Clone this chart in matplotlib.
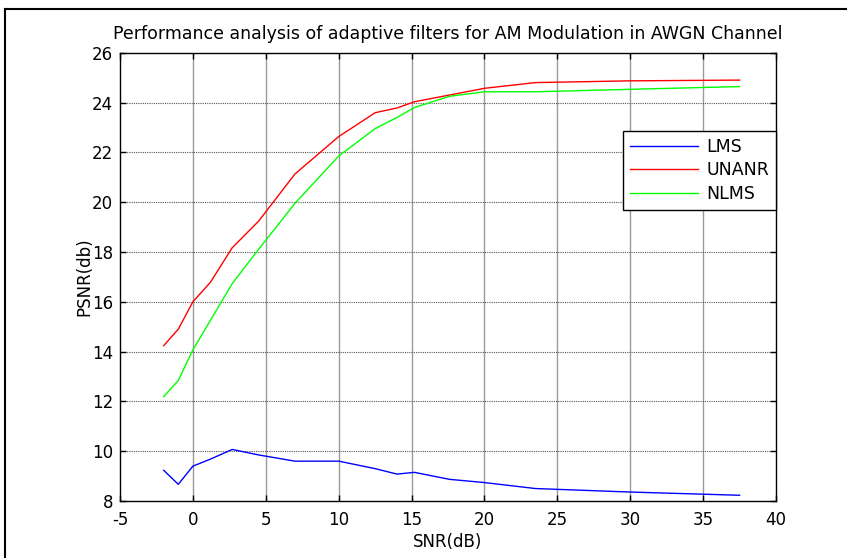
import matplotlib
matplotlib.use('Agg')
import matplotlib.pyplot as plt
from matplotlib.lines import Line2D

plt.rcParams['font.family'] = ['DejaVu Sans']
plt.rcParams['axes.unicode_minus'] = False

# SNR values (dB) where the filters were evaluated
snr = [-2, -1, 0, 1.2, 2.7, 4.5, 7, 10, 12.5, 14, 15.2, 17.6, 20, 23.5, 30, 37.5]

# PSNR (db) for each filter
lms = [9.23, 8.67, 9.4, 9.68, 10.07, 9.85, 9.6, 9.6, 9.3, 9.08, 9.15, 8.87, 8.74, 8.5, 8.36, 8.23]
unanr = [14.24, 14.9, 16.0, 16.78, 18.17, 19.23, 21.13, 22.63, 23.59, 23.78, 24.03, 24.3, 24.57, 24.8, 24.87, 24.9]
nlms = [12.19, 12.84, 14.07, 15.25, 16.73, 18.1, 19.95, 21.85, 22.95, 23.4, 23.8, 24.25, 24.43, 24.43, 24.53, 24.64]

xticks = list(range(-5, 41, 5))
yticks = list(range(8, 27, 2))

fig = plt.figure(figsize=(8.47, 5.58), dpi=100)
W, H = 847, 558
ax = fig.add_axes([120 / W, 1 - 501 / H, 656 / W, 448.3 / H])

ax.plot(snr, lms, color='#0000ff', lw=1, label='LMS')
ax.plot(snr, unanr, color='#ff0000', lw=1, label='UNANR')
ax.plot(snr, nlms, color='#00ff00', lw=1, label='NLMS')

ax.set_xlim(-5, 40)
ax.set_ylim(8, 26)
ax.set_xticks(xticks)
ax.set_yticks(yticks)

# matlab style grid: vertical looks solid grey, horizontal dotted
for x in xticks[1:-1]:
    ax.axvline(x, color='#9a9a9a', lw=1, zorder=0)
for y in yticks[1:-1]:
    ax.axhline(y, color='#555555', lw=0.8, ls=(0, (1, 1)), zorder=0)

ax.tick_params(direction='in', length=4, width=1, top=True, right=True,
               labelsize=12, colors='black')
ax.tick_params(axis='x', pad=7)
ax.tick_params(axis='y', pad=5)
for s in ax.spines.values():
    s.set_linewidth(1)
    s.set_color('black')

ax.set_title('Performance analysis of adaptive filters for AM Modulation in AWGN Channel',
             fontsize=12.5, pad=10)
ax.set_xlabel('SNR(dB)', fontsize=12, labelpad=3)
ax.set_ylabel('PSNR(db)', fontsize=12, labelpad=-1)

leg = ax.legend(loc='upper right', bbox_to_anchor=(1.0, 0.826), borderaxespad=0,
                fancybox=False, framealpha=1, edgecolor='black', fontsize=12.5,
                handlelength=3.9, handletextpad=0.5, labelspacing=0.32,
                borderpad=0.4)
leg.get_frame().set_linewidth(1)

# border lines of the cropped figure
fig.add_artist(Line2D([5 / W, 1], [1 - 9 / H, 1 - 9 / H], color='black', lw=1.5))
fig.add_artist(Line2D([5 / W, 5 / W], [0, 1 - 9 / H], color='black', lw=1.5))

fig.savefig('out.png', dpi=100)
